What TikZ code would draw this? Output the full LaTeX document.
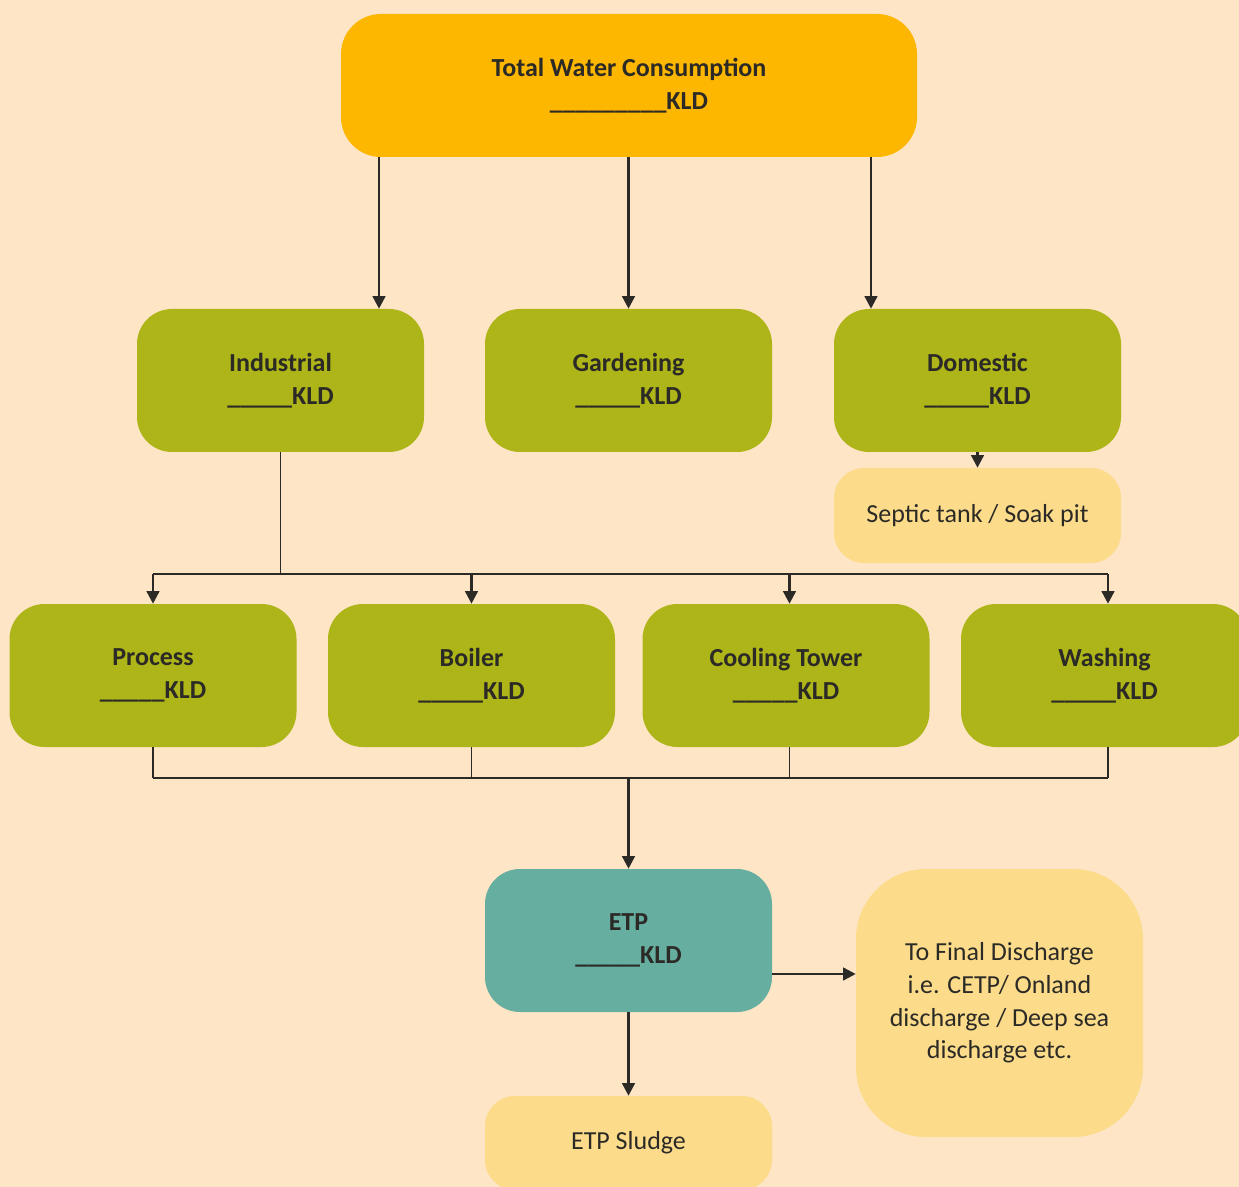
\documentclass[tikz,border=0pt]{standalone}
\usepackage{fontspec}
\setmainfont{Carlito}
\usetikzlibrary{arrows.meta}
\definecolor{bgc}{HTML}{FEE5C6}
\definecolor{topc}{HTML}{FDB701}
\definecolor{greenc}{HTML}{AEB518}
\definecolor{tealc}{HTML}{66AFA0}
\definecolor{lighty}{HTML}{FCDC8A}
\definecolor{ink}{HTML}{2B2A26}
\tikzset{
  box/.style={rounded corners=26.25pt, minimum width=215.25pt, minimum height=107.25pt,
    align=center, text=ink, inner sep=0pt, font=\fontsize{19.5}{24.5}\selectfont\bfseries},
  greenbox/.style={box, fill=greenc},
  lightbox/.style={box, fill=lighty, font=\fontsize{19.5}{24.5}\selectfont},
  arr/.style={draw=ink, line width=1.9pt, -{Triangle[length=9.5pt,width=9.5pt]}},
  thin/.style={draw=ink, line width=0.9pt},
}
\begin{document}
\begin{tikzpicture}[x=0.75pt,y=-0.75pt]
\fill[bgc] (0,0) rectangle (1239,1187);
\useasboundingbox (0,0) rectangle (1239,1187);
% top
\node[box, fill=topc, minimum width=432pt, rounded corners=30pt] (top) at (629,85.5)
  {Total Water Consumption\\\_\_\_\_\_\_\_\_\_KLD};
% row 2
\node[greenbox] (ind) at (280.5,380.5) {Industrial\\\_\_\_\_\_KLD};
\node[greenbox] (gar) at (628.5,380.5) {Gardening\\\_\_\_\_\_KLD};
\node[greenbox] (dom) at (977.5,380.5) {Domestic\\\_\_\_\_\_KLD};
\node[lightbox, minimum height=71.25pt, rounded corners=22.5pt] (sep) at (977.5,515.5) {Septic tank / Soak pit};
% row 3
\node[greenbox] (proc) at (153,675.5) {Process\\\_\_\_\_\_KLD};
\node[greenbox] (boil) at (471.5,675.5) {Boiler\\\_\_\_\_\_KLD};
\node[greenbox] (cool) at (786,675.5) {Cooling Tower\\\_\_\_\_\_KLD};
\node[greenbox] (wash) at (1104.5,675.5) {Washing\\\_\_\_\_\_KLD};
% ETP
\node[box, fill=tealc] (etp) at (628.5,940.5) {ETP\\\_\_\_\_\_KLD};
\node[lightbox, minimum height=70.5pt, rounded corners=22.5pt] (slu) at (628.5,1143) {ETP Sludge};
\node[lightbox, minimum height=201pt, rounded corners=52.5pt] (fin) at (999.5,1003)
  {To Final Discharge\\i.e. CETP/ Onland\\discharge / Deep sea\\discharge etc.};
% coordinates
\coordinate (t1) at (379,0);
\coordinate (t3) at (871,0);
\coordinate (c3) at (789.5,0);
\coordinate (c4) at (1108,0);
\coordinate (busA) at (0,574);
\coordinate (busB) at (0,778);
\coordinate (ey) at (0,974);
% connectors from top
\draw[arr] (top.south -| t1) -- (t1 |- ind.north);
\draw[arr] (top.south -| gar.north) -- (gar.north);
\draw[arr] (top.south -| t3) -- (t3 |- dom.north);
% domestic to septic
\draw[arr] (dom.south) -- (sep.north);
% industrial bus
\draw[thin] (ind.south) -- (ind.south |- busA);
\draw[thin] (proc.north |- busA) -- (c4 |- busA);
\draw[arr] (proc.north |- busA) -- (proc.north);
\draw[arr] (boil.north |- busA) -- (boil.north);
\draw[arr] (c3 |- busA) -- (c3 |- cool.north);
\draw[arr] (c4 |- busA) -- (c4 |- wash.north);
% collection bus
\draw[thin] (proc.south) -- (proc.south |- busB);
\draw[thin] (boil.south) -- (boil.south |- busB);
\draw[thin] (c3 |- cool.south) -- (c3 |- busB);
\draw[thin] (c4 |- wash.south) -- (c4 |- busB);
\draw[thin] (proc.south |- busB) -- (c4 |- busB);
\draw[arr] (etp.north |- busB) -- (etp.north);
% ETP outputs
\draw[arr] (etp.south) -- (slu.north);
\draw[arr] (etp.east |- ey) -- (fin.west |- ey);
\end{tikzpicture}
\end{document}
